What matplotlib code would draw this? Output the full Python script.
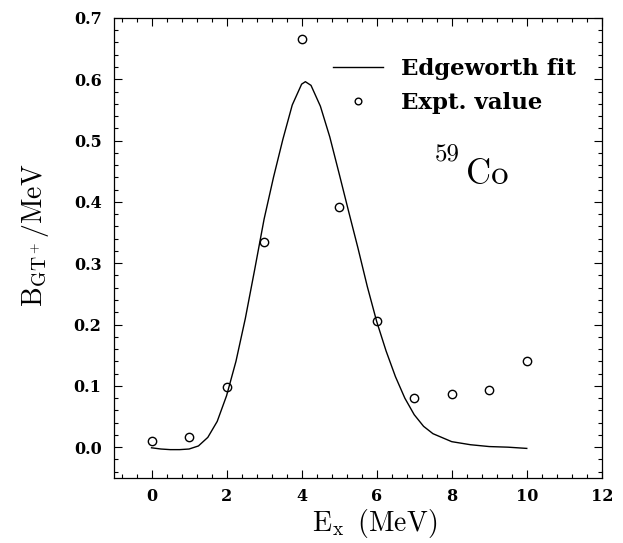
import numpy as np
import matplotlib
matplotlib.use('Agg')
import matplotlib.pyplot as plt
from matplotlib.ticker import MultipleLocator

plt.rcParams['mathtext.fontset'] = 'cm'

# experimental B(GT+) per MeV, one point per MeV bin
ex_expt = [0, 1, 2, 3, 4, 5, 6, 7, 8, 9, 10]
b_expt  = [0.010, 0.016, 0.098, 0.334, 0.665, 0.392, 0.205, 0.080, 0.086, 0.094, 0.141]

# Edgeworth fit
ex_fit = [0.0, 0.25, 0.5, 0.75, 1.0, 1.25, 1.5, 1.75, 2.0, 2.25, 2.5, 2.75,
          3.0, 3.25, 3.5, 3.75, 4.0, 4.1, 4.25, 4.5, 4.75, 5.0, 5.25, 5.5,
          5.75, 6.0, 6.25, 6.5, 6.75, 7.0, 7.25, 7.5, 8.0, 8.5, 9.0, 9.5, 10.0]
b_fit  = [-0.001, -0.003, -0.004, -0.004, -0.003, 0.002, 0.016, 0.042, 0.084, 0.140, 0.210, 0.290,
          0.372, 0.440, 0.502, 0.558, 0.592, 0.596, 0.590, 0.556, 0.506, 0.446, 0.385, 0.325,
          0.262, 0.205, 0.157, 0.115, 0.080, 0.053, 0.034, 0.022, 0.009, 0.004, 0.001, 0.000, -0.002]

xticks = [0, 2, 4, 6, 8, 10, 12]
yticks = [0.0, 0.1, 0.2, 0.3, 0.4, 0.5, 0.6, 0.7]

fig = plt.figure(figsize=(6.23, 5.43), dpi=100)
ax = fig.add_axes([0.183, 0.12, 0.783, 0.847])

ax.plot(ex_fit, b_fit, color='black', lw=1.0, label='Edgeworth fit')
ax.plot(ex_expt, b_expt, 'o', mfc='none', mec='black', ms=6, mew=1.0,
        label='Expt. value')

ax.set_xlim(-1, 12)
ax.set_ylim(-0.05, 0.7)
ax.set_xticks(xticks)
ax.set_yticks(yticks)
ax.xaxis.set_minor_locator(MultipleLocator(0.4))
ax.yaxis.set_minor_locator(MultipleLocator(0.02))
ax.set_xticklabels([str(t) for t in xticks])
ax.set_yticklabels(['%.1f' % t for t in yticks])
ax.tick_params(which='both', direction='in', top=True, right=True, width=0.8)
ax.tick_params(which='major', length=6, pad=9)
ax.tick_params(axis='x', which='major', pad=7)
ax.tick_params(which='minor', length=3)
for lab in ax.get_xticklabels() + ax.get_yticklabels():
    lab.set_fontfamily('DejaVu Serif')
    lab.set_fontweight('bold')
    lab.set_fontsize(11.5)
for s in ax.spines.values():
    s.set_linewidth(0.9)

ax.set_xlabel(r'$\mathrm{E_x\;\;(MeV)}$', fontsize=20, labelpad=0)
ax.xaxis.set_label_coords(0.535, -0.064)
ax.set_ylabel(r'$\mathrm{B_{GT^+}/MeV}$', fontsize=20)
ax.yaxis.set_label_coords(-0.130, 0.528)

# nucleus label
ax.text(7.87, 0.478, '59', fontsize=18, ha='center', va='center')
ax.text(8.96, 0.444, 'Co', fontsize=25, ha='center', va='center')
for t in ax.texts:
    t.set_fontfamily('cmr10')

leg = ax.legend(loc='upper left', bbox_to_anchor=(0.449, 0.912), frameon=False,
                borderpad=0, borderaxespad=0,
                handlelength=2.2, handletextpad=0.75, labelspacing=0.5,
                markerscale=0.8,
                prop={'family': 'DejaVu Serif', 'weight': 'bold', 'size': 16.5})

fig.savefig('out.png', dpi=100)
